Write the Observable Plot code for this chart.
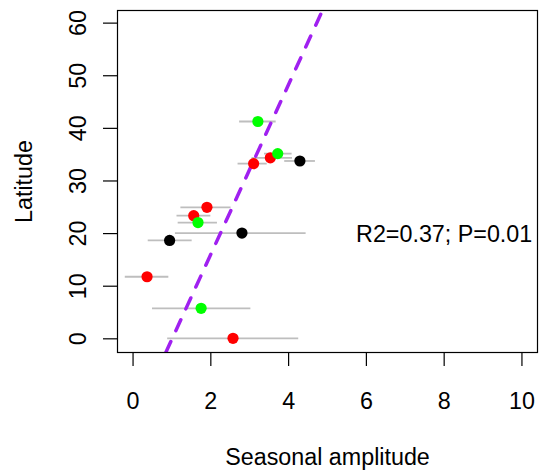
<!DOCTYPE html>
<html>
<head>
<meta charset="utf-8">
<script src="https://cdn.jsdelivr.net/npm/d3@7"></script>
<script src="https://cdn.jsdelivr.net/npm/@observablehq/plot@0.6"></script>
<style>
  html, body { margin: 0; padding: 0; background: #fff; }
  #chart { width: 540px; height: 474px; }
</style>
</head>
<body>
<div id="chart"></div>
<script>
// ---- data ----
const amplitude = [3.21, 3.10, 3.53, 3.72, 4.29, 1.90, 1.56, 1.67, 2.80, 0.94, 0.36, 1.75, 2.57];
const latitude  = [41.3, 33.3, 34.4, 35.2, 33.8, 25.0, 23.4, 22.1, 20.1, 18.7, 11.8, 5.8, 0.1];
const ampLower  = [2.74, 2.70, 3.06, 3.38, 3.90, 1.23, 1.13, 1.16, 1.09, 0.39, -0.20, 0.50, 0.89];
const ampUpper  = [3.68, 3.45, 4.10, 4.09, 4.69, 2.52, 2.00, 2.17, 4.45, 1.52, 0.92, 3.03, 4.26];
const group     = ["B", "A", "A", "B", "C", "A", "A", "B", "C", "C", "A", "B", "A"];
const groupNames = ["A", "B", "C"];
const xTicks = [0, 2, 4, 6, 8, 10];
const yTicks = [0, 10, 20, 30, 40, 50, 60];
const fitIntercept = -16.2;
const fitSlope = 16.14;
const statLabel = ["R2=0.37; P=0.01"];
const xLabel = ["Seasonal amplitude"];
const yLabel = ["Latitude"];

const rows = amplitude.map((a, i) => ({
  amp: a, lat: latitude[i], lo: ampLower[i], hi: ampUpper[i], group: group[i]
}));

const yDomain = [-2.6, 62.4];
const fitLine = yDomain.map(y => ({lat: y, amp: (y - fitIntercept) / fitSlope}));
const FS = 23.3;

const chart = Plot.plot({
  width: 540,
  height: 474,
  marginLeft: 117,
  marginRight: 3,
  marginTop: 10,
  marginBottom: 122,
  style: {fontFamily: "'Liberation Sans', Arial, sans-serif", fontSize: FS + "px", color: "black", background: "white"},
  x: {domain: [-0.4, 10.4]},
  y: {domain: yDomain},
  color: {type: "ordinal", domain: groupNames, range: ["#ff0000", "#00ff00", "#000000"]},
  marks: [
    Plot.ruleY(rows, {y: "lat", x1: "lo", x2: "hi", stroke: "#bebebe", strokeWidth: 1.8}),
    Plot.line(fitLine, {x: "amp", y: "lat", stroke: "#a020f0", strokeWidth: 3.5,
      strokeDasharray: "12,12", strokeLinecap: "round", clip: true}),
    Plot.dot(rows, {x: "amp", y: "lat", r: 5.6, fill: "group", stroke: null}),
    Plot.text(statLabel, {x: 8, y: 20, text: d => d, textAnchor: "middle", lineAnchor: "middle", fontSize: FS, dy: 1}),
    Plot.frame({stroke: "black", strokeWidth: 1.2}),
    Plot.axisX({ticks: xTicks, tickSize: 14, tickPadding: 26, tickFormat: d => String(d), label: null, strokeWidth: 1.2}),
    Plot.axisY({ticks: yTicks, tickSize: 14, tickFormat: () => "", label: null, strokeWidth: 1.2}),
    Plot.text(yTicks, {y: d => d, frameAnchor: "left", dx: -38.6, rotate: -90, text: d => String(d),
      textAnchor: "middle", lineAnchor: "middle", fontSize: FS}),
    Plot.text(yLabel, {frameAnchor: "left", dx: -93, rotate: -90, text: d => d,
      textAnchor: "middle", lineAnchor: "middle", fontSize: FS}),
    Plot.text(xLabel, {frameAnchor: "bottom", dy: 105, text: d => d,
      textAnchor: "middle", lineAnchor: "middle", fontSize: FS})
  ]
});

document.getElementById("chart").appendChild(chart);
</script>
</body>
</html>
